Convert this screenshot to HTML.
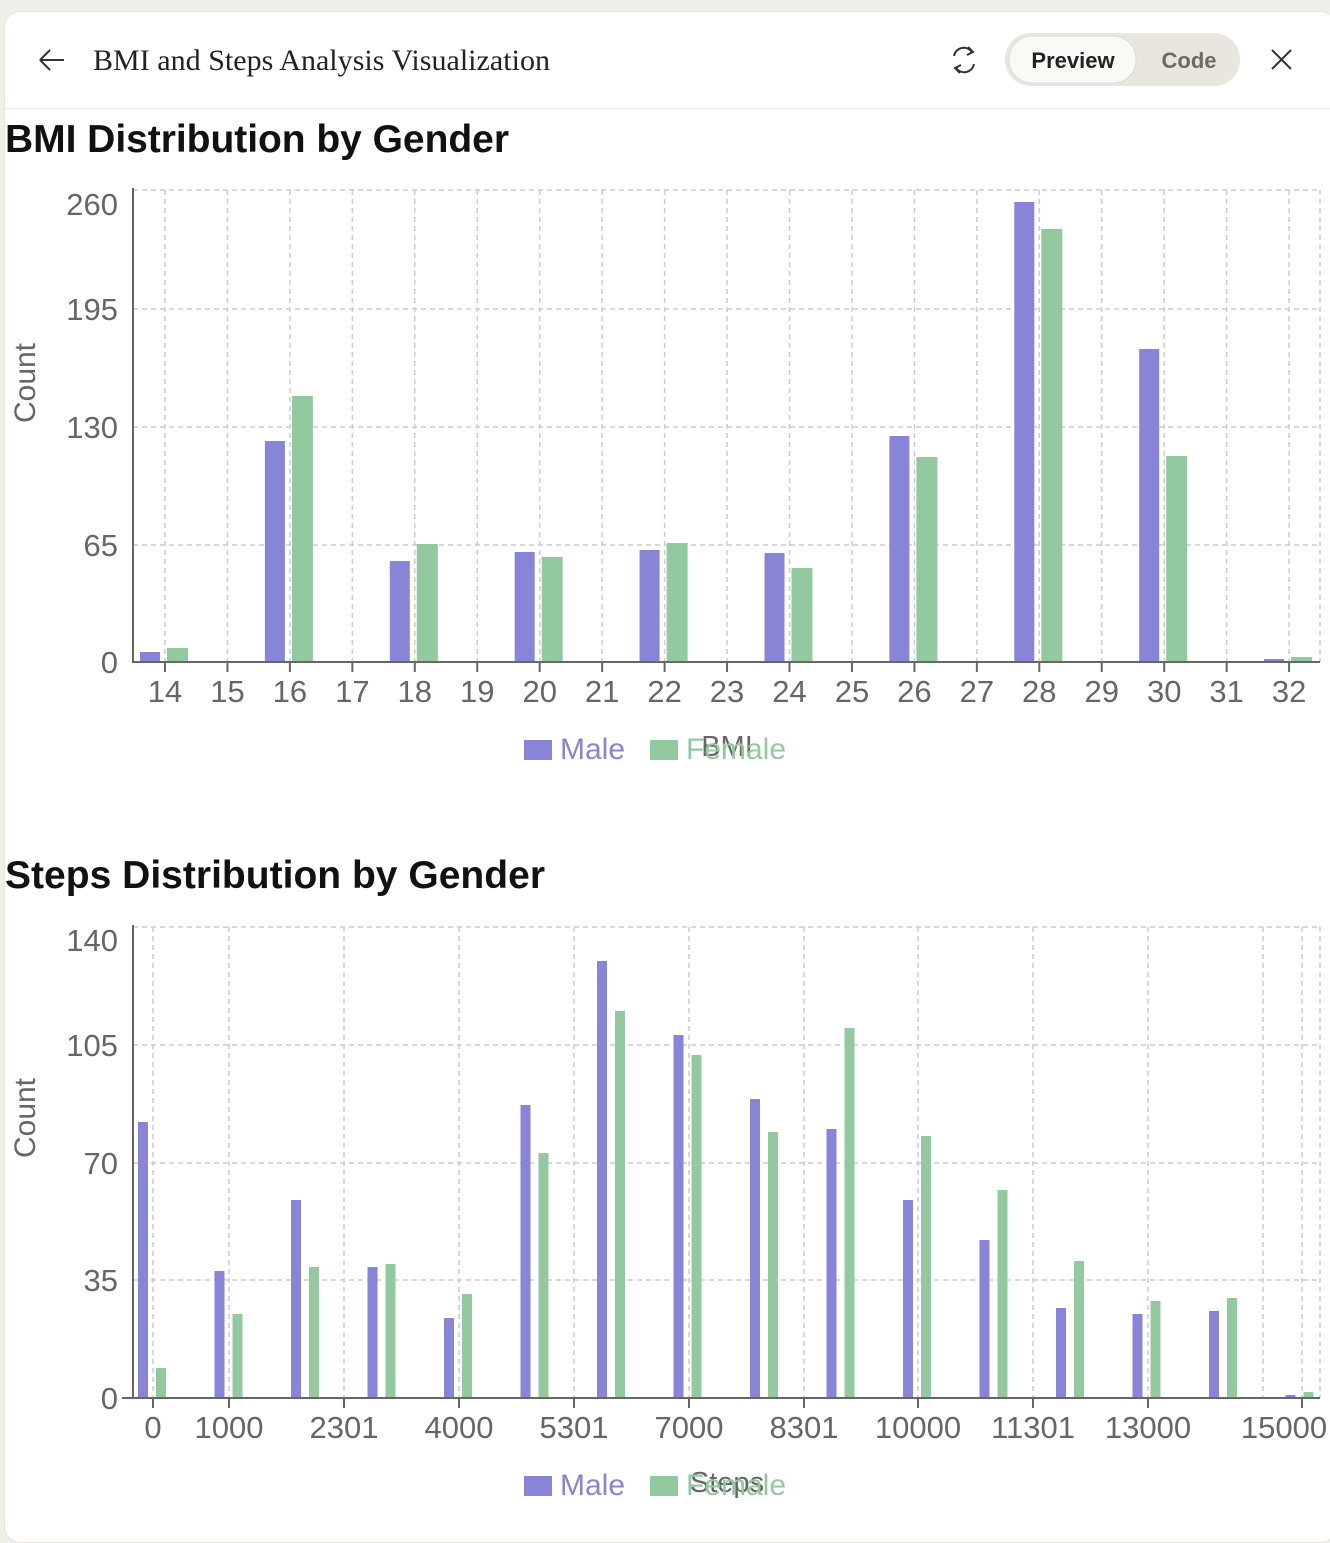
<!DOCTYPE html>
<html><head><style>
body{margin:0;background:#f0efe9;font-family:"Liberation Sans",sans-serif;overflow:hidden;}
.card{position:absolute;left:4px;top:11px;width:1330px;height:1530px;background:#fff;border-radius:16px;border:1px solid #e6e4dc;}
.hdr{position:absolute;left:0;top:0;width:1326px;height:96px;border-bottom:1px solid #ebe9e2;}
</style></head><body>
<div class="card">
<div class="hdr"></div>
</div>
<svg width="1330" height="1526" style="position:absolute;left:0;top:0" font-family="Liberation Sans, sans-serif">
<!-- header -->
<path d="M40 60 H64 M40 60 L50 50 M40 60 L50 70" stroke="#333" stroke-width="2" fill="none"/>
<text x="93" y="70" font-family="Liberation Serif, serif" font-size="30" fill="#222" textLength="457">BMI and Steps Analysis Visualization</text>
<path d="M954 56 A10 10 0 0 1 972 52 M974 64 A10 10 0 0 1 956 68" stroke="#333" stroke-width="2" fill="none"/>
<path d="M968 47 L973 52 L967 55 M960 73 L955 68 L961 65" stroke="#333" stroke-width="2" fill="none"/>
<rect x="1005" y="33" width="235" height="53" rx="26" fill="#e8e6de"/>
<rect x="1009" y="36" width="127" height="47" rx="23" fill="#faf9f5" stroke="#dedbd2"/>
<text x="1073" y="68" text-anchor="middle" font-size="22" font-weight="bold" fill="#222">Preview</text>
<text x="1189" y="68" text-anchor="middle" font-size="22" font-weight="bold" fill="#6b6a63">Code</text>
<path d="M1272 50 L1291 69 M1291 50 L1272 69" stroke="#333" stroke-width="2"/>
<text x="5" y="152" font-size="39" font-weight="bold" fill="#111" textLength="504">BMI Distribution by Gender</text>
<text x="5" y="888" font-size="39" font-weight="bold" fill="#111" textLength="540">Steps Distribution by Gender</text>

<!-- chart 1 grid -->
<g stroke="#ccc" stroke-dasharray="5 4" stroke-width="1.5">
<line x1="133" y1="190" x2="1320" y2="190"/><line x1="133" y1="309" x2="1320" y2="309"/>
<line x1="133" y1="427" x2="1320" y2="427"/><line x1="133" y1="545" x2="1320" y2="545"/>
<line x1="1320" y1="190" x2="1320" y2="662"/>
<g id="v1"></g>
</g>
<g id="c1"></g>
<line x1="133" y1="188" x2="133" y2="663" stroke="#666" stroke-width="2"/>
<line x1="133" y1="662" x2="1320" y2="662" stroke="#666" stroke-width="2"/>
<g font-size="31" fill="#666" text-anchor="end">
<text x="118" y="215">260</text><text x="118" y="320">195</text><text x="118" y="438">130</text><text x="118" y="556">65</text><text x="118" y="673">0</text>
</g>
<text transform="translate(35,383) rotate(-90)" text-anchor="middle" font-size="30" fill="#666">Count</text>
<rect x="524" y="740" width="28" height="20" fill="#8884d8"/><text x="560" y="759" font-size="30" fill="#8884d8">Male</text>
<rect x="650" y="740" width="28" height="20" fill="#93c99f"/>
<text x="727" y="756" text-anchor="middle" font-size="29" fill="#666">BMI</text>
<text x="686" y="759" font-size="30" fill="#93c99f">Female</text>

<!-- chart 2 -->
<g stroke="#ccc" stroke-dasharray="5 4" stroke-width="1.5">
<line x1="133" y1="927" x2="1320" y2="927"/><line x1="133" y1="1045" x2="1320" y2="1045"/>
<line x1="133" y1="1163" x2="1320" y2="1163"/><line x1="133" y1="1280" x2="1320" y2="1280"/>
<line x1="1320" y1="927" x2="1320" y2="1398"/>
<g id="v2"></g>
</g>
<g id="c2"></g>
<line x1="133" y1="925" x2="133" y2="1399" stroke="#666" stroke-width="2"/>
<line x1="122" y1="1398" x2="1320" y2="1398" stroke="#666" stroke-width="2"/>
<g font-size="31" fill="#666" text-anchor="end">
<text x="118" y="951">140</text><text x="118" y="1056">105</text><text x="118" y="1174">70</text><text x="118" y="1291">35</text><text x="118" y="1409">0</text>
</g>
<text transform="translate(35,1118) rotate(-90)" text-anchor="middle" font-size="30" fill="#666">Count</text>
<rect x="524" y="1476" width="28" height="20" fill="#8884d8"/><text x="560" y="1495" font-size="30" fill="#8884d8">Male</text>
<rect x="650" y="1476" width="28" height="20" fill="#93c99f"/>
<text x="727" y="1492" text-anchor="middle" font-size="29" fill="#666">Steps</text>
<text x="686" y="1495" font-size="30" fill="#93c99f">Female</text>
</svg>
<script>
var NS="http://www.w3.org/2000/svg";
function el(p,t,a){var e=document.createElementNS(NS,t);for(var k in a)e.setAttribute(k,a[k]);p.appendChild(e);return e;}
var v1=document.getElementById("v1"),c1=document.getElementById("c1");
var m1={0:652,2:441,4:561,6:552,8:550,10:553,12:436,14:202,16:349,18:659},f1={0:648,2:396,4:544,6:557,8:543,10:568,12:457,14:229,16:456,18:657};
for(var i=0;i<19;i++){var x=165+i*62.45;
el(v1,"line",{x1:x,y1:190,x2:x,y2:662});
el(c1,"line",{x1:x,y1:662,x2:x,y2:672,stroke:"#666","stroke-width":2});
var t=el(c1,"text",{x:x,y:702,"text-anchor":"middle","font-size":31,fill:"#666"});t.textContent=14+i;
if(m1[i]){el(c1,"rect",{x:x-25,y:m1[i],width:20,height:662-m1[i],fill:"#8884d8"});
el(c1,"rect",{x:x+2,y:f1[i],width:21,height:662-f1[i],fill:"#93c99f"});}}
var v2=document.getElementById("v2"),c2=document.getElementById("c2");
var ticks=[[153,"0"],[229,"1000"],[344,"2301"],[459,"4000"],[574,"5301"],[689,"7000"],[804,"8301"],[918,"10000"],[1033,"11301"],[1148,"13000"],[1302,"15000"]];
ticks.forEach(function(a){el(v2,"line",{x1:a[0],y1:927,x2:a[0],y2:1398});
el(c2,"line",{x1:a[0],y1:1398,x2:a[0],y2:1408,stroke:"#666","stroke-width":2});
var t=el(c2,"text",{x:a[1]=="15000"?1284:a[0],y:1438,"text-anchor":"middle","font-size":31,fill:"#666"});t.textContent=a[1];});
el(v2,"line",{x1:1263,y1:927,x2:1263,y2:1398});
var m2=[1122,1271,1200,1267,1318,1105,961,1035,1099,1129,1200,1240,1308,1314,1311,1395],f2=[1368,1314,1267,1264,1294,1153,1011,1055,1132,1028,1136,1190,1261,1301,1298,1392];
for(var i=0;i<16;i++){var c=152+i*76.5;
el(c2,"rect",{x:c-14,y:m2[i],width:10,height:1398-m2[i],fill:"#8884d8"});
el(c2,"rect",{x:c+4,y:f2[i],width:10,height:1398-f2[i],fill:"#93c99f"});}
</script>
</body></html>
